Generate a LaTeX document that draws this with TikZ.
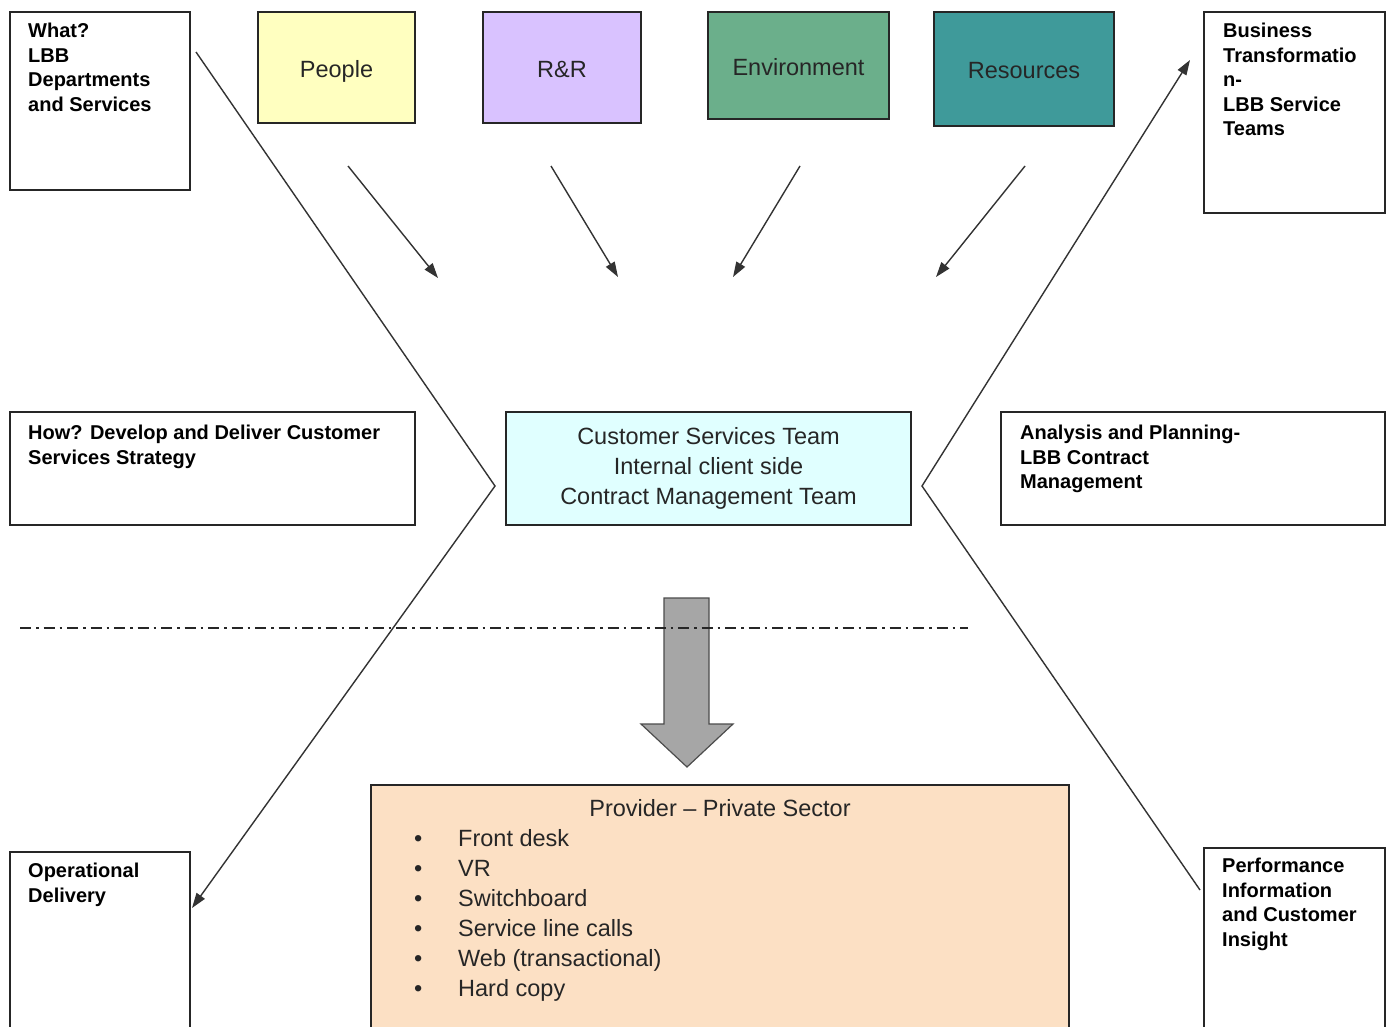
\documentclass[tikz,border=0pt]{standalone}
\usepackage{fontspec}
\setmainfont{Liberation Sans}
\usetikzlibrary{arrows.meta}

\definecolor{peoplefill}{HTML}{FFFFC0}
\definecolor{rrfill}{HTML}{D9C2FF}
\definecolor{envfill}{HTML}{6BAF8B}
\definecolor{resfill}{HTML}{3F9A9A}
\definecolor{teamfill}{HTML}{E0FFFF}
\definecolor{providerfill}{HTML}{FCE0C4}
\definecolor{bigarrow}{HTML}{A6A6A6}

\begin{document}
\begin{tikzpicture}[x=1pt, y=1pt,
  box/.style={draw=black!85, line width=1.4pt, inner sep=0pt},
  boxlabel/.style={anchor=north west, align=left, inner sep=0pt, font=\bfseries\fontsize{20}{24.5}\selectfont},
  plainlabel/.style={font=\fontsize{23.5}{30}\selectfont, text=black!85},
  toplabel/.style={plainlabel, text height=19pt, text depth=0pt},
  flow/.style={-{Triangle[length=15pt, width=10pt]}, line width=1.4pt, color=black!80}]

\fill[white] (0,0) rectangle (1392,-1026);
\useasboundingbox (0,0) rectangle (1392,-1026);

% white boxes round the edge
\node[box, minimum width=180pt, minimum height=178pt] (what) at (100,-101) {};
\node[boxlabel] (what label) at (28,-23) {What?\\LBB\\Departments\\and Services};

\node[box, minimum width=181pt, minimum height=201pt] (business) at (1294.5,-112.5) {};
\node[boxlabel] (business label) at (1223,-23) {Business\\Transformatio\\n-\\LBB Service\\Teams};

\node[box, minimum width=405pt, minimum height=113pt] (how) at (212.5,-468.5) {};
\node[boxlabel] (how label) at (28,-425) {How? Develop and Deliver Customer\\Services Strategy};

\node[box, minimum width=384pt, minimum height=113pt] (analysis) at (1193,-468.5) {};
\node[boxlabel] (analysis label) at (1020,-425) {Analysis and Planning-\\LBB Contract\\Management};

\node[box, minimum width=180pt, minimum height=188pt] (delivery) at (100,-946) {};
\node[boxlabel] (delivery label) at (28,-863) {Operational\\Delivery};

\node[box, minimum width=181pt, minimum height=192pt] (performance) at (1294.5,-944) {};
\node[boxlabel] (performance label) at (1222,-858) {Performance\\Information\\and Customer\\Insight};

% coloured boxes on top
\node[box, toplabel, fill=peoplefill, minimum width=157pt, minimum height=111pt] (people) at (336.5,-67.5) {People};
\node[box, toplabel, fill=rrfill, minimum width=158pt, minimum height=111pt] (rr) at (562,-67.5) {R\&R};
\node[box, toplabel, fill=envfill, minimum width=181pt, minimum height=107pt] (environment) at (798.5,-65.5) {Environment};
\node[box, toplabel, fill=resfill, minimum width=180pt, minimum height=114pt] (resources) at (1024,-69) {Resources};

\coordinate (people from) at (348,-166);
\coordinate (people to) at (438,-278);
\coordinate (rr from) at (551,-166);
\coordinate (rr to) at (618,-277);
\coordinate (environment from) at (800,-166);
\coordinate (environment to) at (733,-277);
\coordinate (resources from) at (1025,-166);
\coordinate (resources to) at (936,-277);
\draw[flow] (people from) -- (people to);
\draw[flow] (rr from) -- (rr to);
\draw[flow] (environment from) -- (environment to);
\draw[flow] (resources from) -- (resources to);

% client side team
\node[box, plainlabel, fill=teamfill, align=center, minimum width=405pt, minimum height=113pt] (team) at (708.5,-468.5) {Customer Services Team\\Internal client side\\Contract Management Team};

% the two chevrons
\coordinate (left from) at (196,-52);
\coordinate (left tip) at (495,-486);
\coordinate (left to) at (192,-908);
\draw[flow] (left from) -- (left tip) -- (left to);

\coordinate (right from) at (1200,-890);
\coordinate (right tip) at (922,-486);
\coordinate (right to) at (1190,-60);
\draw[flow] (right from) -- (right tip) -- (right to);

% provider
\node[box, fill=providerfill, minimum width=698pt, minimum height=255pt] (provider) at (720,-912.5) {};
\node[plainlabel] (provider title) at (720,-808) {Provider -- Private Sector};
\node[plainlabel, anchor=north west, align=left, inner sep=0pt] (provider list) at (414,-829) {%
\makebox[44pt][l]{\textbullet}Front desk\\
\makebox[44pt][l]{\textbullet}VR\\
\makebox[44pt][l]{\textbullet}Switchboard\\
\makebox[44pt][l]{\textbullet}Service line calls\\
\makebox[44pt][l]{\textbullet}Web (transactional)\\
\makebox[44pt][l]{\textbullet}Hard copy};

% big arrow and divider
\draw[fill=bigarrow, draw=black!70, line width=1.2pt] (664,-598) -- (709,-598) -- (709,-724) -- (733,-724) -- (687,-767) -- (641,-724) -- (664,-724) -- cycle;

\coordinate (divider west) at (20,-628);
\coordinate (divider east) at (968,-628);
\draw[line width=2.2pt, black!85, dash pattern=on 11pt off 5pt on 2.5pt off 5pt] (divider west) -- (divider east);
\end{tikzpicture}
\end{document}
